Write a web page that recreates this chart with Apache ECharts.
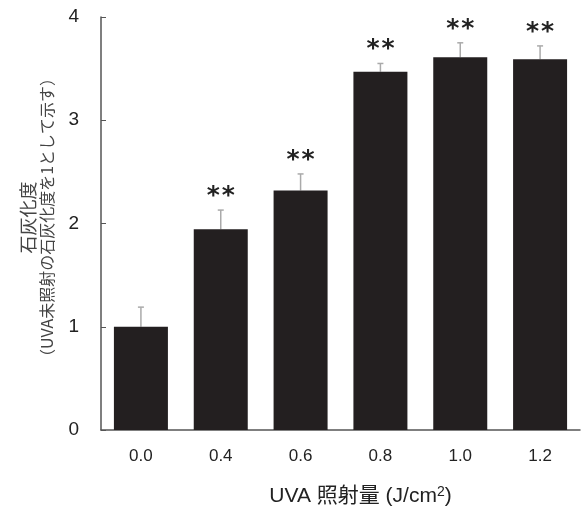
<!DOCTYPE html>
<html lang="ja">
<head>
    <meta charset="UTF-8">
    <title></title>
    <script src="https://cdn.jsdelivr.net/npm/echarts@6/dist/echarts.min.js"></script>
</head>
<body style="margin:0">
<div id="box1" style="width: 582px;height: 506px"></div>
<script>
    var categories = ['0.0', '0.4', '0.6', '0.8', '1.0', '1.2'];
    var values = [1.0, 1.945, 2.32, 3.47, 3.61, 3.59];
    var errTops = [1.19, 2.13, 2.48, 3.55, 3.75, 3.72];
    var marks = ['', '**', '**', '**', '**', '**'];

    var mychart = echarts.init(document.getElementById("box1"));
    var cjk = '"Liberation Sans", "Noto Sans CJK JP", sans-serif';

    var option = {
        animation: false,
        textStyle: {fontFamily: cjk},
        grid: {left: 101, right: 2, top: 17, bottom: 76, containLabel: false, outerBoundsMode: 'none'},
        xAxis: {
            type: 'category',
            data: categories,
            axisTick: {show: false},
            axisLine: {lineStyle: {color: '#555', width: 1.5}},
            axisLabel: {fontSize: 17, color: '#222', margin: 18},
            name: '{t|UVA 照射量 (J/cm}{s|2}{t|)}',
            nameLocation: 'middle',
            nameGap: 55,
            nameTextStyle: {
                padding: [0, 0, 0, 40],
                rich: {
                    t: {fontSize: 21, color: '#222', fontFamily: cjk},
                    s: {fontSize: 14, color: '#222', verticalAlign: 'top', padding: [0, 0, 9, 0], fontFamily: cjk}
                }
            }
        },
        yAxis: {
            type: 'value',
            min: 0,
            max: 4,
            interval: 1,
            splitLine: {show: false},
            axisLine: {show: true, lineStyle: {color: '#555', width: 1.5}},
            axisTick: {show: true, inside: true, length: 5, lineStyle: {color: '#555'}},
            axisLabel: {fontSize: 19, color: '#222', margin: 22},
            name: '{a|石灰化度}\n{b|（UVA未照射の石灰化度を1として示す）}',
            nameLocation: 'middle',
            nameRotate: 90,
            nameGap: 45,
            nameTextStyle: {
                align: 'center',
                padding: [0, 0, 0, 12],
                rich: {
                    a: {fontSize: 18, color: '#444', lineHeight: 20, fontFamily: '"Noto Sans CJK JP"'},
                    b: {fontSize: 16, color: '#444', lineHeight: 18, fontFamily: '"Noto Sans CJK JP"'}
                }
            }
        },
        series: [{
            type: 'bar',
            data: values,
            barWidth: 54,
            itemStyle: {color: '#231f20'},
            z: 2
        }, {
            type: 'custom',
            z: 1,
            data: categories.map(function (c, i) { return [i, values[i], errTops[i]]; }),
            renderItem: function (params, api) {
                var base = api.coord([api.value(0), api.value(1)]);
                var top = api.coord([api.value(0), api.value(2)]);
                var x = base[0];
                var children = [
                    {type: 'line', shape: {x1: x, y1: base[1], x2: x, y2: top[1]},
                        style: {stroke: '#aaa', lineWidth: 1.5}},
                    {type: 'line', shape: {x1: x - 3, y1: top[1], x2: x + 3, y2: top[1]},
                        style: {stroke: '#aaa', lineWidth: 1.5}}
                ];
                var m = marks[params.dataIndex];
                for (var k = 0; k < m.length; k++) {
                    children.push({
                        type: 'text',
                        style: {
                            text: m[k], x: x + (k - (m.length - 1) / 2) * 15, y: top[1] - 1,
                            align: 'center', verticalAlign: 'bottom',
                            fontSize: 25, fontWeight: 'bold', fill: '#222', fontFamily: '"DejaVu Sans"'
                        }
                    });
                }
                return {type: 'group', children: children};
            }
        }]
    };
    mychart.setOption(option);
</script>
</body>
</html>
